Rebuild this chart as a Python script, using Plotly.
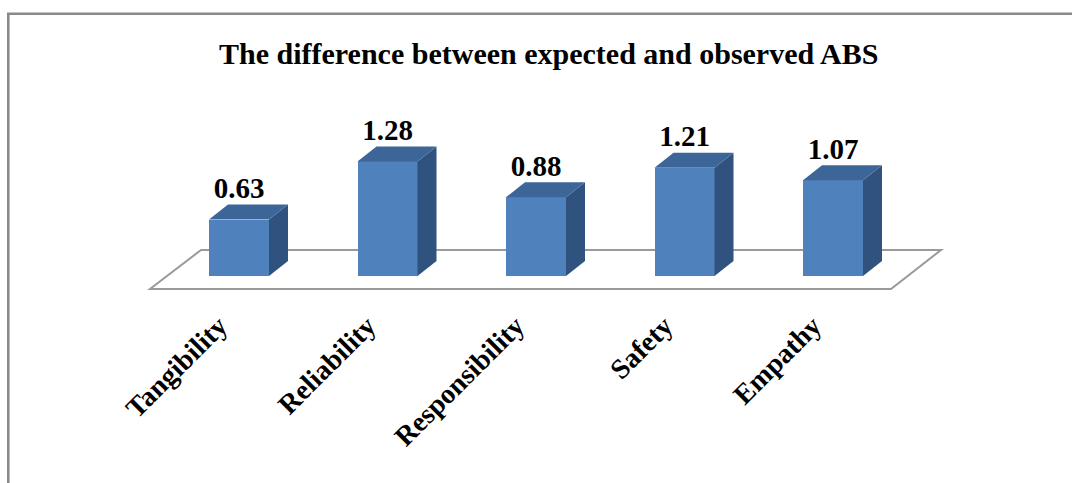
import plotly.graph_objects as go

# ---- data ----
categories = ["Tangibility", "Reliability", "Responsibility", "Safety", "Empathy"]
values = [0.63, 1.28, 0.88, 1.21, 1.07]
value_labels = ["0.63", "1.28", "0.88", "1.21", "1.07"]
title_text = "The difference between expected and observed ABS"

# ---- style / geometry constants ----
W, H = 1072, 483
PX_PER_X = 148.5          # pixels per category step
PX_PER_Y = 89.5           # pixels per value unit
ZERO_PX = 276             # pixel row of value 0
X0_PX = 239               # pixel column of first category
PLOT_BOTTOM_PX = 293
BAR_W = 60 / PX_PER_X
DX = 19 / PX_PER_X
DY = 15 / PX_PER_Y
LABEL_SHIFT = 20 / PX_PER_X
FRONT = "#4F81BD"
TOP = "#3D6698"
SIDE = "#30527E"
FONT = "Liberation Serif"

xr = [-X0_PX / PX_PER_X, (W - X0_PX) / PX_PER_X]
yr = [(ZERO_PX - PLOT_BOTTOM_PX) / PX_PER_Y, ZERO_PX / PX_PER_Y]

def px_to_x(px):
    return (px - X0_PX) / PX_PER_X

def py_to_y(py):
    return (ZERO_PX - py) / PX_PER_Y

xs = list(range(len(categories)))
fig = go.Figure()

# front faces
fig.add_trace(go.Bar(x=xs, y=values, width=BAR_W, marker=dict(color=FRONT, line=dict(width=0)),
                     hoverinfo="skip", showlegend=False))

hw = BAR_W / 2
for x, v in zip(xs, values):
    # side face
    fig.add_trace(go.Scatter(
        x=[x + hw, x + hw, x + hw + DX, x + hw + DX, x + hw],
        y=[0, v, v + DY, DY, 0],
        fill="toself", fillcolor=SIDE, mode="lines", line=dict(width=0, color=SIDE),
        hoverinfo="skip", showlegend=False))
    # top face
    fig.add_trace(go.Scatter(
        x=[x - hw, x - hw + DX, x + hw + DX, x + hw, x - hw],
        y=[v, v + DY, v + DY, v, v],
        fill="toself", fillcolor=TOP, mode="lines", line=dict(width=0, color=TOP),
        hoverinfo="skip", showlegend=False))

# value labels
fig.add_trace(go.Scatter(
    x=xs, y=[v + 0.32 for v in values], mode="text", text=value_labels,
    textposition="middle center",
    textfont=dict(family=FONT, size=29, color="black", weight="bold"),
    hoverinfo="skip", showlegend=False, cliponaxis=False))

# floor (parallelogram)
fl = [(px_to_x(150), py_to_y(289)), (px_to_x(891), py_to_y(289)),
      (px_to_x(941), py_to_y(250)), (px_to_x(201), py_to_y(250))]
path = "M " + " L ".join(f"{a},{b}" for a, b in fl) + " Z"
shapes = [dict(type="path", path=path, xref="x", yref="y", layer="below",
               line=dict(color="#9A9A9A", width=2), fillcolor="rgba(0,0,0,0)")]

# outer frame
plot_h = PLOT_BOTTOM_PX
shapes.append(dict(type="rect", xref="paper", yref="paper",
                   x0=8.3 / W, x1=1.05, y0=-1.0, y1=1 - 13.7 / plot_h,
                   line=dict(color="#8A8A8A", width=2.6), fillcolor="rgba(0,0,0,0)", layer="below"))

fig.update_layout(
    width=W, height=H,
    margin=dict(l=0, r=0, t=0, b=H - PLOT_BOTTOM_PX),
    paper_bgcolor="white", plot_bgcolor="white",
    bargap=0,
    showlegend=False,
    shapes=shapes,
    xaxis=dict(range=xr, tickmode="array", tickvals=[x - LABEL_SHIFT for x in xs], ticktext=categories,
               tickangle=-45, showgrid=False, zeroline=False, showline=False, ticks="",
               ticklabelstandoff=10,
               tickfont=dict(family=FONT, size=28, color="black", weight="bold"),
               fixedrange=True),
    yaxis=dict(range=yr, visible=False, fixedrange=True),
    annotations=[dict(text=f"<b>{title_text}</b>", xref="paper", yref="paper",
                      x=548 / W, y=1 - 53 / plot_h, xanchor="center", yanchor="middle",
                      showarrow=False, font=dict(family=FONT, size=30, color="black"))],
)

fig.write_html("out.html")
